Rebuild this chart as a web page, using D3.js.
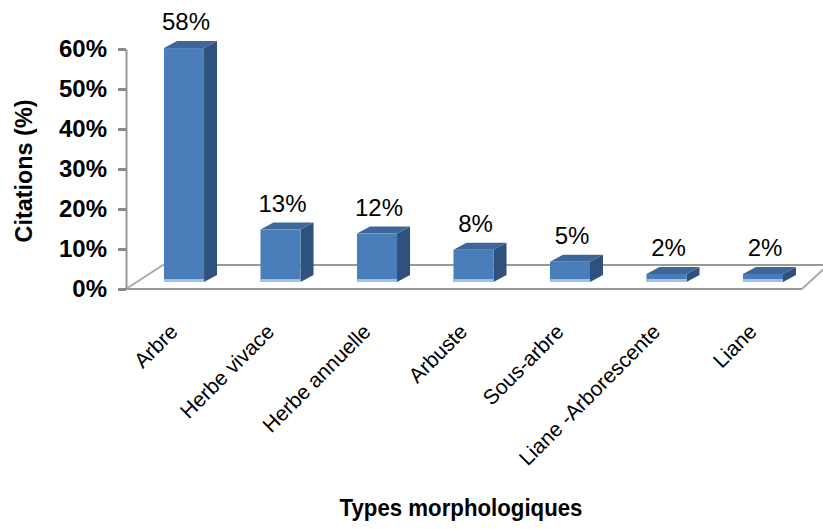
<!DOCTYPE html>
<html>
<head>
<meta charset="utf-8">
<script src="https://cdn.jsdelivr.net/npm/d3@7"></script>
<style>
  html, body { margin: 0; padding: 0; background: #fff; }
  svg { display: block; }
</style>
</head>
<body>
<svg id="chart" width="823" height="529"></svg>
<script>
// Morphological types and their share of citations
const categories = ["Arbre", "Herbe vivace", "Herbe annuelle", "Arbuste", "Sous-arbre", "Liane -Arborescente", "Liane"];
const values = [0.58, 0.13, 0.12, 0.08, 0.05, 0.02, 0.02];
const tickValues = [0, 0.1, 0.2, 0.3, 0.4, 0.5, 0.6];
const yTitle = "Citations (%)";
const xTitle = "Types morphologiques";

const svg = d3.select("#chart");

// Front plane of the floor / axis wall
const floorFrontY = 289, floorBackY = 265;
const axisX = 126;
const floorLeftBack = 163, floorRightFront = 802, floorRightBack = 828;

// Depth offset of the 3D column faces
const depthX = 13, depthY = -7;

const x = d3.scaleBand().domain(categories).range([164, 783]).paddingInner(0.585).paddingOuter(0);
const yAxisScale = d3.scaleLinear().domain([0, 0.6]).range([floorFrontY, 49]);
const yBar = d3.scaleLinear().domain([0, 0.6]).range([282, 40]);

const colFront = "#4a7ebb", colSide = "#30517c", colTop = "#3d6699", colBase = "#a4bfe2";
const lineGray = "#999999";

// Floor
const floor = svg.append("g").attr("stroke", lineGray).attr("stroke-width", 2).attr("fill", "none");
floor.append("line").attr("x1", floorLeftBack).attr("y1", floorBackY).attr("x2", floorRightBack).attr("y2", floorBackY);
floor.append("line").attr("x1", axisX).attr("y1", floorFrontY).attr("x2", floorLeftBack).attr("y2", floorBackY).attr("stroke", "#aaaaaa");
floor.append("line").attr("x1", floorRightFront).attr("y1", floorFrontY).attr("x2", floorRightBack).attr("y2", floorBackY).attr("stroke", "#aaaaaa");
floor.append("line").attr("x1", axisX).attr("y1", floorFrontY).attr("x2", floorRightFront).attr("y2", floorFrontY);

// Columns
const bars = svg.append("g").selectAll("g").data(categories).join("g");
bars.each(function (c, i) {
  const g = d3.select(this);
  const x0 = x(c), w = x.bandwidth();
  const yt = yBar(values[i]), yb = yBar(0);
  // side face
  g.append("path")
    .attr("d", `M${x0 + w},${yt} L${x0 + w + depthX},${yt + depthY} L${x0 + w + depthX},${yb + depthY} L${x0 + w},${yb} Z`)
    .attr("fill", colSide);
  // top face
  g.append("path")
    .attr("d", `M${x0},${yt} L${x0 + depthX},${yt + depthY} L${x0 + w + depthX},${yt + depthY} L${x0 + w},${yt} Z`)
    .attr("fill", colTop);
  // front face
  g.append("rect").attr("x", x0).attr("y", yt).attr("width", w).attr("height", yb - yt).attr("fill", colFront);
  // light base edge
  g.append("rect").attr("x", x0).attr("y", yb - 3).attr("width", w).attr("height", 3).attr("fill", colBase);
});

// Value labels
svg.append("g").selectAll("text").data(categories).join("text")
  .attr("x", c => x(c) + x.bandwidth() / 2 + 2)
  .attr("y", (c, i) => yBar(values[i]) - 18)
  .attr("text-anchor", "middle")
  .attr("font-family", "Arial, 'Liberation Sans', sans-serif")
  .attr("font-size", 24)
  .attr("fill", "#000")
  .text((c, i) => d3.format(".0%")(values[i]));

// Vertical axis
const yAxis = d3.axisLeft(yAxisScale)
  .tickValues(tickValues)
  .tickFormat(d3.format(".0%"))
  .tickSize(8)
  .tickSizeOuter(0)
  .tickPadding(11);
const ag = svg.append("g").attr("transform", `translate(${axisX},0)`).call(yAxis);
ag.select(".domain").attr("stroke", lineGray).attr("stroke-width", 2);
ag.selectAll(".tick line").attr("stroke", "#8a8a8a").attr("stroke-width", 3);
ag.selectAll(".tick text")
  .attr("font-family", "Arial, 'Liberation Sans', sans-serif")
  .attr("font-size", 24)
  .attr("font-weight", "bold")
  .attr("fill", "#000");

// Category labels
svg.append("g").selectAll("text").data(categories).join("text")
  .attr("transform", c => `translate(${x(c) + x.bandwidth() / 2 - 5},333) rotate(-45)`)
  .attr("text-anchor", "end")
  .attr("font-family", "Arial, 'Liberation Sans', sans-serif")
  .attr("font-size", 21)
  .attr("fill", "#000")
  .text(c => c);

// Axis titles
svg.append("text")
  .attr("transform", "translate(32,171) rotate(-90)")
  .attr("text-anchor", "middle")
  .attr("font-family", "Arial, 'Liberation Sans', sans-serif")
  .attr("font-size", 24)
  .attr("font-weight", "bold")
  .attr("textLength", 143)
  .attr("lengthAdjust", "spacingAndGlyphs")
  .text(yTitle);

svg.append("text")
  .attr("x", 461)
  .attr("y", 516)
  .attr("text-anchor", "middle")
  .attr("font-family", "Arial, 'Liberation Sans', sans-serif")
  .attr("font-size", 23)
  .attr("font-weight", "bold")
  .attr("textLength", 243)
  .attr("lengthAdjust", "spacingAndGlyphs")
  .text(xTitle);
</script>
</body>
</html>
